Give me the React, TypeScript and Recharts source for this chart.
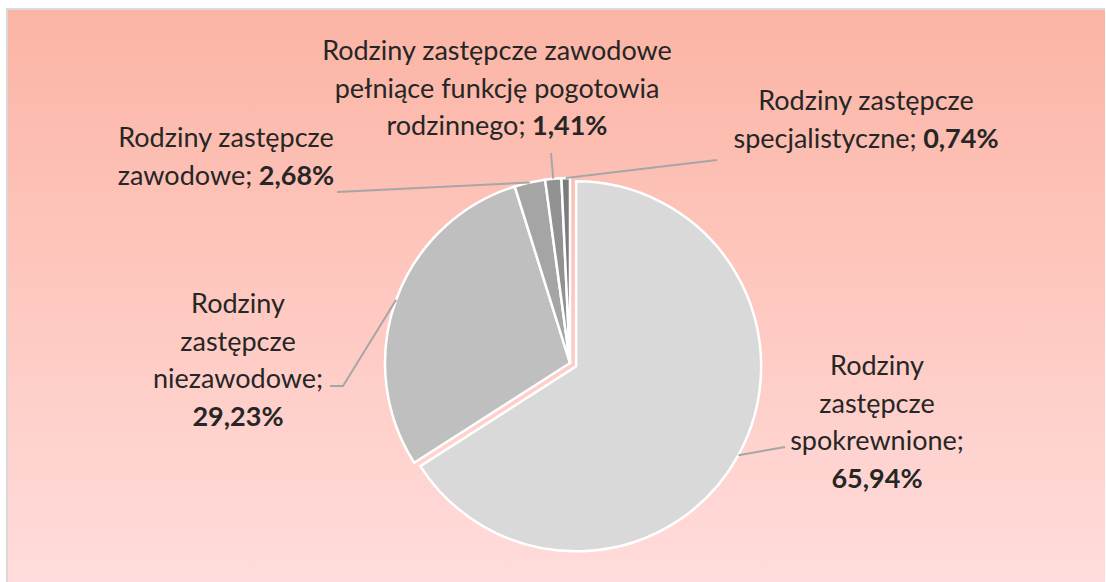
import React from 'react';
import { PieChart, Pie, Cell } from 'recharts';

// udział poszczególnych form rodzinnej pieczy zastępczej (%)
const categories = [
  'Rodziny zastępcze spokrewnione',
  'Rodziny zastępcze niezawodowe',
  'Rodziny zastępcze zawodowe',
  'Rodziny zastępcze zawodowe pełniące funkcję pogotowia rodzinnego',
  'Rodziny zastępcze specjalistyczne',
];
const shares = [65.94, 29.23, 2.68, 1.41, 0.74];
const labelLines = [
  ['Rodziny', 'zastępcze', 'spokrewnione;'],
  ['Rodziny', 'zastępcze', 'niezawodowe;'],
  ['Rodziny zastępcze', 'zawodowe;'],
  ['Rodziny zastępcze zawodowe', 'pełniące funkcję pogotowia', 'rodzinnego;'],
  ['Rodziny zastępcze', 'specjalistyczne;'],
];
const colors = ['#d9d9d9', '#bfbfbf', '#a5a5a5', '#929292', '#7c7c7c'];

const data = categories.map((name, i) => ({ name, value: shares[i] }));

const W = 1106;
const H = 582;
const CX = 570;
const CY = 363;
const R = 185;
const EXPLODE = 7;
const FONT = 'Lato, "Noto Sans", sans-serif';
const LINE_H = 37.5;

// label boxes relative to the pie centre (manually placed in the original)
// tx/ty: centre of text / first baseline, pts: leader line points after the slice edge
const labelLayout = [
  { tx: 307, ty: 12, pts: [[215, 84]], newLine: true },
  { tx: -332, ty: -50, pts: [[-227, 23], [-240, 23]], newLine: true },
  { tx: -344, ty: -216, pts: [[-233, -171]], newLine: false },
  { tx: -73, ty: -303, pts: [[-19, -210]], newLine: false },
  { tx: 296, ty: -253, pts: [[147, -203]], newLine: false },
];

const total = shares.reduce((a, b) => a + b, 0);
const midFrac = shares[0] / 2 / total;
const exDx = EXPLODE * Math.sin(midFrac * 2 * Math.PI);
const exDy = -EXPLODE * Math.cos(midFrac * 2 * Math.PI);

const fmt = (v: number) => v.toFixed(2).replace('.', ',') + '%';

function makeLabel(only: (i: number) => boolean) {
  return (props: any) => {
    const { cx, cy, midAngle, outerRadius, index } = props;
    if (!only(index)) return null;
    const rad = (-midAngle * Math.PI) / 180;
    const sx = cx + outerRadius * Math.cos(rad);
    const sy = cy + outerRadius * Math.sin(rad);
    const lay = labelLayout[index];
    const pts = [[sx, sy], ...lay.pts.map(([x, y]) => [CX + x, CY + y])];
    const lines = labelLines[index];
    const pct = fmt(shares[index]);
    const x = CX + lay.tx;
    const y0 = CY + lay.ty;
    return (
      <g key={`lbl-${index}`}>
        <polyline
          points={pts.map((p) => p.join(',')).join(' ')}
          fill="none"
          stroke="#a6a6a6"
          strokeWidth={2}
        />
        <text
          textAnchor="middle"
          fontFamily={FONT}
          fontSize={27}
          fill="#262626"
        >
          {lines.map((ln, k) => (
            <tspan key={k} x={x} y={y0 + k * LINE_H}>
              {ln}
              {!lay.newLine && k === lines.length - 1 ? (
                <tspan fontWeight="bold"> {pct}</tspan>
              ) : null}
            </tspan>
          ))}
          {lay.newLine ? (
            <tspan x={x} y={y0 + lines.length * LINE_H} fontWeight="bold">
              {pct}
            </tspan>
          ) : null}
        </text>
      </g>
    );
  };
}

export default function App() {
  return (
    <div
      style={{
        position: 'fixed',
        left: 0,
        top: 0,
        width: W,
        height: H,
        background: '#ffffff',
        overflow: 'hidden',
      }}
    >
      <div
        style={{
          position: 'absolute',
          left: 6,
          top: 8,
          width: W - 7,
          height: H - 8,
          boxSizing: 'border-box',
          borderTop: '2px solid #d9d9d9',
          borderLeft: '2px solid #d9d9d9',
          background: 'linear-gradient(180deg, #fbb4a4 0%, #fec6bd 45%, #ffdcdb 100%)',
        }}
      />
      <div style={{ position: 'absolute', left: 0, top: 0 }}>
        <PieChart width={W} height={H} margin={{ top: 0, right: 0, bottom: 0, left: 0 }}>
          <Pie
            data={data}
            dataKey="value"
            nameKey="name"
            cx={CX}
            cy={CY}
            outerRadius={R}
            startAngle={90}
            endAngle={-270}
            isAnimationActive={false}
            labelLine={false}
            label={makeLabel((i) => i !== 0)}
          >
            {data.map((d, i) => (
              <Cell
                key={d.name}
                fill={i === 0 ? 'transparent' : colors[i]}
                stroke={i === 0 ? 'none' : '#ffffff'}
                strokeWidth={2.5}
              />
            ))}
          </Pie>
          <Pie
            data={data}
            dataKey="value"
            nameKey="name"
            cx={CX + exDx}
            cy={CY + exDy}
            outerRadius={R}
            startAngle={90}
            endAngle={-270}
            isAnimationActive={false}
            labelLine={false}
            label={makeLabel((i) => i === 0)}
          >
            {data.map((d, i) => (
              <Cell
                key={d.name}
                fill={i === 0 ? colors[0] : 'transparent'}
                stroke={i === 0 ? '#ffffff' : 'none'}
                strokeWidth={2.5}
              />
            ))}
          </Pie>
        </PieChart>
      </div>
    </div>
  );
}
